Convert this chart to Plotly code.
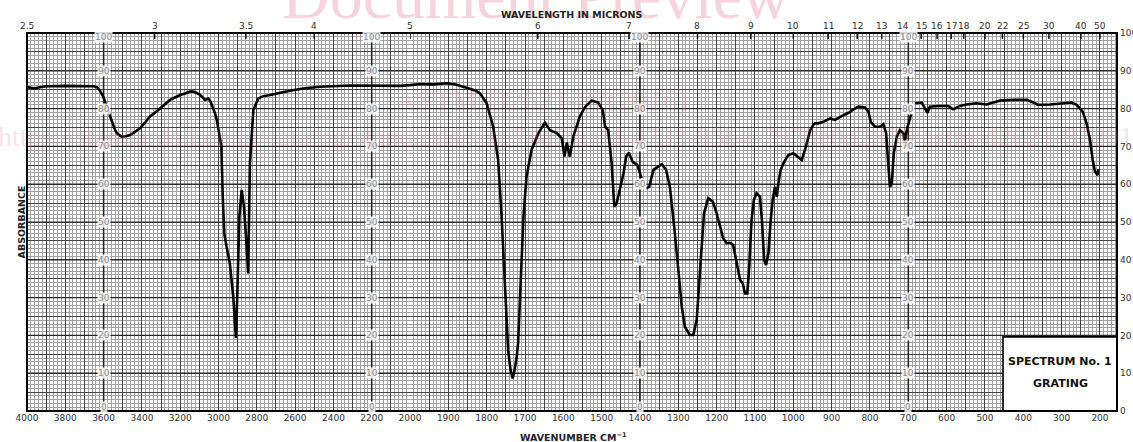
import plotly.graph_objects as go

# ---- spectrum data (wavenumber cm-1, absorbance chart units) ----
# 4000-2000 cm-1 section (half scale)
wn_high = [4000, 3980, 3960, 3940, 3900, 3800, 3700, 3650, 3634, 3620, 3602, 3584, 3570,
           3558, 3545, 3532, 3518, 3506, 3485, 3462, 3440, 3410, 3385, 3358, 3330, 3305,
           3280, 3253, 3225, 3201, 3175, 3149, 3130, 3114, 3100, 3088, 3070, 3060, 3053,
           3041, 3030, 3018, 3008, 3000, 2990, 2985, 2978, 2970, 2958, 2941, 2923, 2915,
           2909, 2905, 2902, 2891, 2879, 2867, 2855, 2845, 2836, 2827, 2818, 2792, 2766,
           2731, 2696, 2627, 2557, 2470, 2313, 2200, 2100, 2052, 2000]
abs_high = [85.7, 85.4, 85.3, 85.6, 85.9, 86.0, 86.0, 85.9, 85.6, 84.8, 83.2, 80.5, 78.8,
            77.0, 75.0, 73.5, 72.9, 72.6, 72.7, 73.0, 73.7, 74.8, 76.2, 77.9, 79.0, 80.0,
            81.2, 82.3, 83.0, 83.6, 84.0, 84.5, 84.5, 84.2, 83.8, 83.2, 82.3, 82.5, 82.7,
            81.8, 80.5, 78.7, 76.8, 74.3, 71.5, 70.0, 57.0, 47.0, 43.5, 39.1, 30.2, 24.0,
            19.3, 25.0, 30.2, 51.4, 58.5, 54.0, 45.0, 36.4, 65.5, 74.3, 79.6, 82.7, 83.3,
            83.6, 84.0, 84.7, 85.3, 85.8, 86.1, 86.1, 86.1, 86.0, 86.2]

# 2000-200 cm-1 section (None = pen break)
wn_low = [2000, 1974, 1940, 1904, 1880, 1852, 1830, 1817, 1800, 1783, 1770, 1761, 1752,
          1744, 1738, 1732, 1727, 1722, 1718, 1713, 1709, 1704, 1696, 1683, 1665, 1648,
          1635, 1617, 1604, 1597, 1591, 1583, 1574, 1557, 1543, 1526, 1509, 1497, 1491,
          1483, 1474, 1467, 1461, 1452, 1443, 1436, 1429, 1419, 1407, 1396, 1390, 1384,
          1376, 1365, 1352, 1343, 1332, 1322, 1309, 1300, 1291, 1283, 1270, 1261, 1252,
          1245, 1239, 1233, 1222, 1210, 1200, 1191, 1183, 1174, 1165, 1157, 1148, 1139,
          1132, 1126, 1120, 1115, 1109, 1103, 1096, 1087, 1082, 1076, 1071, 1065, 1059,
          1054, 1048, 1043, 1039, 1033, 1024, 1013, 1000, 990, 978, 969, 961, 956, 948,
          943, 935, 922, 904, 891, 874, 856, 843, 830, 813, 804, 798, 787, 774, 765, 758,
          752, 748, 743, 738, 730, 722, 713, 709, 703, 696, 692, 688, 683, 665, 657, 650,
          644, 622, 596, 583, 566, 548, 522, 496, 478, 461, 426, 391, 374, 361, 330, 296,
          274, 261, 245, 235, 226, 219, 213, 206, 204]
abs_low = [86.2, 86.5, 86.4, 86.7, 86.4, 85.6, 84.8, 84.0, 81.4, 75.2, 66.4, 51.4, 33.8,
           16.1, 11.0, 8.6, 11.0, 14.0, 18.0, 29.0, 40.0, 51.4, 62.0, 69.0, 73.5, 76.3,
           74.3, 73.5, 72.1, 67.3, 71.0, 67.3, 72.6, 77.9, 80.5, 82.1, 81.6, 79.6, 75.2,
           74.3, 65.5, 54.0, 54.9, 58.5, 62.9, 67.3, 68.3, 65.9, 65.1, 61.6, None, 58.9,
           59.3, 63.8, 64.6, 65.3, 63.8, 59.3, 47.0, 36.4, 27.6, 22.3, 20.1, 20.1, 24.1,
           34.7, 43.5, 52.3, 56.3, 55.4, 52.3, 48.8, 45.7, 44.4, 44.5, 43.9, 39.1, 34.7,
           33.8, 31.1, 31.1, 38.2, 50.5, 55.8, 57.6, 56.7, 50.5, 39.9, 38.6, 41.7, 50.5,
           55.8, 59.3, 56.7, 60.2, 63.8, 65.9, 67.7, 68.2, 67.3, 66.4, 69.3, 72.6, 74.3, 75.7,
           76.1, 76.1, 76.5, 77.4, 77.0, 78.0, 78.9, 79.8, 80.5, 80.3, 79.2, 76.5, 75.2, 75.2, 75.9, 73.5,
           64.6, 59.3, 60.2, 68.2, 72.6, 74.3, 73.5, 71.3, 74.8, 77.4, 78.7, None, 81.4, 81.6, 80.1, 78.9,
           80.5, 80.7, 80.7, 79.8, 80.7, 81.1, 81.4, 81.1, 81.6, 82.1, 82.3, 82.3, 81.6, 81.0, 81.1, 81.4,
           81.6, 81.0, 79.2, 76.1, 71.7, 66.4, 63.3, 62.4, 64.0]

# axis labels
wn_labels_high = [4000, 3800, 3600, 3400, 3200, 3000, 2800, 2600, 2400, 2200]
wn_labels_low = [2000, 1900, 1800, 1700, 1600, 1500, 1400, 1300, 1200, 1100, 1000,
                 900, 800, 700, 600, 500, 400, 300, 200]
microns_high = ['2.5', '3', '3.5', '4']
microns_low = ['5', '6', '7', '8', '9', '10', '11', '12', '13', '14', '15', '16', '17',
               '18', '20', '22', '25', '30', '40', '50']
abs_ticks = [0, 10, 20, 30, 40, 50, 60, 70, 80, 90, 100]
label_columns = [('x', 'y', 3600), ('x', 'y', 2200), ('x2', 'y2', 1400), ('x2', 'y2', 700)]

SPLIT = 383 / 1090
LOW_END = 155.6
FONT = 'DejaVu Sans'
TXT = '#333333'
MINOR = '#a2a2a2'
MAJOR = '#444444'
PINK = 'rgba(225,120,150,0.32)'

fig = go.Figure()
fig.add_trace(go.Scatter(x=wn_high, y=abs_high, xaxis='x', yaxis='y', mode='lines',
                         line=dict(color='black', width=2.6), connectgaps=False,
                         showlegend=False, hoverinfo='x+y'))
fig.add_trace(go.Scatter(x=wn_low, y=abs_low, xaxis='x2', yaxis='y2', mode='lines',
                         line=dict(color='black', width=2.6), connectgaps=False,
                         showlegend=False, hoverinfo='x+y'))

hv = list(range(4000, 2000, -100))
ht = [str(v) if v in wn_labels_high else '' for v in hv]
lv = list(range(2000, 150, -50))
lt = [str(v) if v in wn_labels_low else '' for v in lv]

grid_axis = dict(showgrid=True, gridcolor=MAJOR, gridwidth=1, zeroline=False,
                 ticks='', showline=False, automargin=False,
                 tickfont=dict(family=FONT, size=9, color=TXT))

yv = list(range(0, 101, 5))
yt = [str(v) if v % 10 == 0 else '' for v in yv]

fig.update_layout(
    width=1133, height=442,
    margin=dict(l=27, r=16, t=33, b=31),
    paper_bgcolor='white', plot_bgcolor='white',
    font=dict(family=FONT, color=TXT),
    xaxis=dict(grid_axis, domain=[0, SPLIT], range=[4000, 2000], anchor='y',
               tickmode='array', tickvals=hv, ticktext=ht,
               minor=dict(dtick=20, tick0=0, showgrid=True, gridcolor=MINOR, gridwidth=1)),
    xaxis2=dict(grid_axis, domain=[SPLIT, 1], range=[2000, LOW_END], anchor='y2',
                tickmode='array', tickvals=lv, ticktext=lt,
                minor=dict(dtick=10, tick0=0, showgrid=True, gridcolor=MINOR, gridwidth=1)),
    yaxis=dict(grid_axis, domain=[0, 1], range=[0, 100], anchor='x',
               tickmode='array', tickvals=yv, ticktext=yt, showticklabels=False,
               minor=dict(dtick=1, tick0=0, showgrid=True, gridcolor=MINOR, gridwidth=1)),
    yaxis2=dict(grid_axis, domain=[0, 1], range=[0, 100], anchor='x2',
                side='right', tickmode='array', tickvals=yv, ticktext=yt,
                ticklabelstandoff=2,
                minor=dict(dtick=1, tick0=0, showgrid=True, gridcolor=MINOR, gridwidth=1)),
)

shapes = []
# dark lines every 10 absorbance units, per section
for xr, yr, a, b in [('x', 'y', 4000, 2000), ('x2', 'y2', 2000, LOW_END)]:
    for v in abs_ticks:
        shapes.append(dict(type='line', xref=xr, yref=yr, x0=a, x1=b, y0=v, y1=v,
                           line=dict(color='#262626', width=1.2), layer='between'))
# printed scale columns
for xr, yr, xv in label_columns:
    shapes.append(dict(type='line', xref=xr, yref=yr, x0=xv, x1=xv, y0=0, y1=100,
                       line=dict(color='#262626', width=1.6), layer='between'))
# short ticks on top edge for the micron scale
for xr, yr, labels in [('x', 'y', microns_high), ('x2', 'y2', microns_low)]:
    for m in labels:
        shapes.append(dict(type='line', xref=xr, yref=yr, x0=10000 / float(m),
                           x1=10000 / float(m), y0=98.4, y1=100,
                           line=dict(color='#111', width=1.5), layer='above'))
# spectrum label box
shapes.append(dict(type='rect', xref='x2', yref='y2', x0=453, x1=LOW_END, y0=0, y1=19.6,
                   fillcolor='white', line=dict(color='black', width=1.6), layer='above'))
# frame
shapes.append(dict(type='rect', xref='paper', yref='paper', x0=0, x1=1, y0=0, y1=1,
                   line=dict(color='black', width=2), layer='above'))
fig.update_layout(shapes=shapes)

ann = []
for xr, yr, xv in label_columns:
    for v in abs_ticks:
        shift = 4 if v == 0 else (-4 if v == 100 else 0)
        ann.append(dict(x=xv, y=v, xref=xr, yref=yr, text=str(v), showarrow=False,
                        yshift=shift, font=dict(family=FONT, size=9, color='#8a8a8a'),
                        bgcolor='rgba(255,255,255,0.85)', borderpad=0))
for xr, labels in [('x', microns_high), ('x2', microns_low)]:
    for m in labels:
        ann.append(dict(x=10000 / float(m), y=1, xref=xr, yref='paper', text=m,
                        showarrow=False, yanchor='bottom', yshift=0,
                        font=dict(family=FONT, size=9, color=TXT)))

ann += [
    # watermark of the source document
    dict(x=0.467, y=1.10, xref='paper', yref='paper', text='Document Preview',
         yanchor='middle', showarrow=False,
         font=dict(family='Liberation Serif', size=66, color=PINK)),
    dict(x=0.472, y=0.823, xref='paper', yref='paper', text='ASTM D2621-87(2016)',
         yanchor='middle', showarrow=False,
         font=dict(family='Liberation Serif', size=30, color='rgba(225,120,150,0.22)')),
    dict(x=0.5, y=0.725, xref='paper', yref='paper',
         text='https://standards.iteh.ai/catalog/standards/sist/74a73c0d-4733-93b4-7978e0d2836/astm-d2621-872016',
         yanchor='middle', showarrow=False,
         font=dict(family='Liberation Serif', size=28, color='rgba(225,120,150,0.22)')),
    dict(x=0.5, y=1.048, xref='paper', yref='paper', text='<b>WAVELENGTH IN MICRONS</b>',
         yanchor='middle', showarrow=False, font=dict(family=FONT, size=9.5, color='#222')),
    dict(x=0.501, y=-0.068, xref='paper', yref='paper', text='<b>WAVENUMBER CM<sup>−1</sup></b>',
         yanchor='middle', showarrow=False, font=dict(family=FONT, size=9.5, color='#222')),
    dict(x=-0.012, y=0.5, xref='paper', yref='paper', text='<b>ABSORBANCE</b>', textangle=-90,
         showarrow=False, font=dict(family=FONT, size=9.5, color='#222')),
    dict(x=304, y=13, xref='x2', yref='y2', text='<b>SPECTRUM No. 1</b>', showarrow=False,
         font=dict(family=FONT, size=11, color='#111')),
    dict(x=304, y=7.4, xref='x2', yref='y2', text='<b>GRATING</b>', showarrow=False,
         font=dict(family=FONT, size=11, color='#111')),
]
fig.update_layout(annotations=ann)

# the page is photographed at its top-left corner, so drop the default body margin
fig.write_html("out.html", config={'displayModeBar': False},
               post_script="document.body.style.margin='0';document.body.style.overflow='hidden';")
